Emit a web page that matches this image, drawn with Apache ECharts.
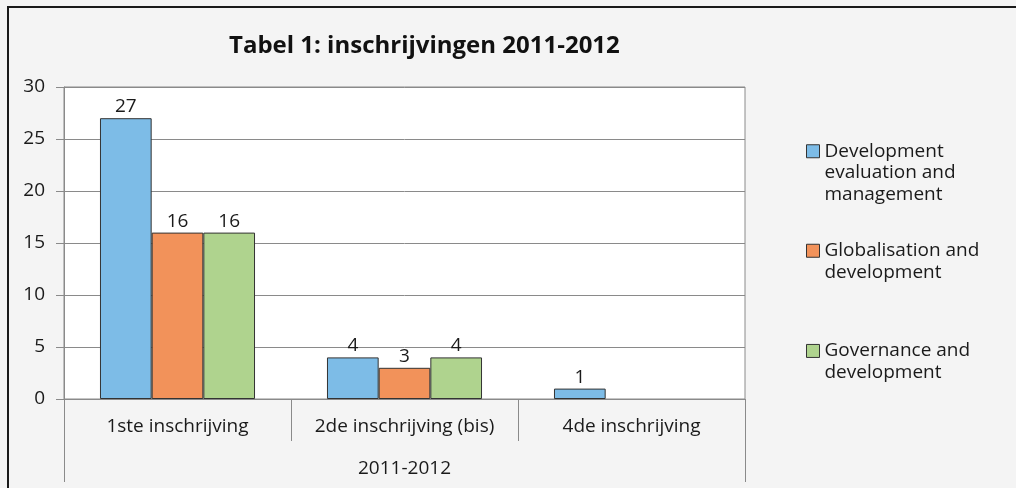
<!DOCTYPE html>
<html>
<head>
<meta charset="utf-8">
<script src="https://cdn.jsdelivr.net/npm/echarts@6/dist/echarts.min.js"></script>
<style>
html,body{margin:0;padding:0;background:#f4f4f4;}
#chart{width:1016px;height:488px;}
</style>
</head>
<body>
<div id="chart"></div>
<script>
var categories = ['1ste inschrijving', '2de inschrijving (bis)', '4de inschrijving'];
var groupLabel = ['2011-2012'];
var seriesNames = ['Development evaluation and management', 'Globalisation and development', 'Governance and development'];
var legendLines = [
  'Development\nevaluation and\nmanagement',
  'Globalisation and\ndevelopment',
  'Governance and\ndevelopment'
];
var devEval = [27, 4, 1];
var globDev = [16, 3, null];
var govDev = [16, 4, null];
var seriesColors = ['#7dbce7', '#f2925a', '#afd38e'];
var yTicks = { min: 0, max: 30, interval: 5 };

var FONT = 'Open Sans';
var FS = 19;
var chart = echarts.init(document.getElementById('chart'));
var values = [devEval, globDev, govDev];

function legendFor(i, top) {
  var n = legendLines[i].split('\n').length;
  var pre = new Array(n).join('\n');
  return {
    orient: 'vertical',
    left: 806,
    top: top,
    padding: 0,
    icon: 'rect',
    itemWidth: 13,
    itemHeight: 13,
    itemStyle: { borderColor: '#333', borderWidth: 1 },
    data: [seriesNames[i]],
    formatter: function () { return pre + legendLines[i]; },
    textStyle: { fontFamily: FONT, fontSize: FS, color: '#1a1a1a', lineHeight: 21.5 }
  };
}

var option = {
  backgroundColor: '#f4f4f4',
  animation: false,
  title: {
    text: 'Tabel 1: inschrijvingen 2011-2012',
    left: 224, top: 29,
    textStyle: { fontFamily: FONT, fontWeight: 'bold', fontSize: 24, color: '#111' }
  },
  legend: [legendFor(0, 97.5), legendFor(1, 218.5), legendFor(2, 318.7)],
  grid: {
    left: 64, top: 87, right: 271, bottom: 89,
    show: true, backgroundColor: '#ffffff', borderColor: '#8a8a8a', borderWidth: 1
  },
  xAxis: [{
    type: 'category', data: categories, position: 'bottom',
    axisLine: { show: true, lineStyle: { color: '#8a8a8a' } },
    axisTick: { show: true, interval: 0, length: 42, lineStyle: { color: '#8a8a8a' } },
    axisLabel: { interval: 0, hideOverlap: false, margin: 18, fontFamily: FONT, fontSize: FS, color: '#1a1a1a' }
  }, {
    type: 'category', data: groupLabel, position: 'bottom',
    axisLine: { show: false },
    axisTick: { show: true, interval: 0, length: 83, lineStyle: { color: '#8a8a8a' } },
    axisLabel: { interval: 0, margin: 60, fontFamily: FONT, fontSize: FS, color: '#1a1a1a' }
  }],
  yAxis: {
    type: 'value', min: yTicks.min, max: yTicks.max, interval: yTicks.interval,
    axisLine: { show: true, lineStyle: { color: '#8a8a8a' } },
    axisTick: { show: true, length: 8, lineStyle: { color: '#8a8a8a' } },
    splitLine: { lineStyle: { color: '#8a8a8a' } },
    axisLabel: { margin: 19, fontFamily: FONT, fontSize: FS, color: '#1a1a1a' }
  },
  graphic: [
    { type: 'line', shape: { x1: 7, y1: 7, x2: 1016, y2: 7 }, style: { stroke: '#1a1a1a', lineWidth: 2 } },
    { type: 'line', shape: { x1: 8, y1: 6, x2: 8, y2: 488 }, style: { stroke: '#1a1a1a', lineWidth: 2 } }
  ],
  series: seriesNames.map(function (n, i) {
    return {
      name: n, type: 'bar', xAxisIndex: 0, data: values[i],
      barGap: '0%', barCategoryGap: '31.7%',
      itemStyle: { color: seriesColors[i], borderColor: '#333', borderWidth: 1 },
      label: { show: true, position: 'top', distance: 2, fontFamily: FONT, fontSize: FS, color: '#1a1a1a' }
    };
  })
};
chart.setOption(option);
</script>
</body>
</html>
